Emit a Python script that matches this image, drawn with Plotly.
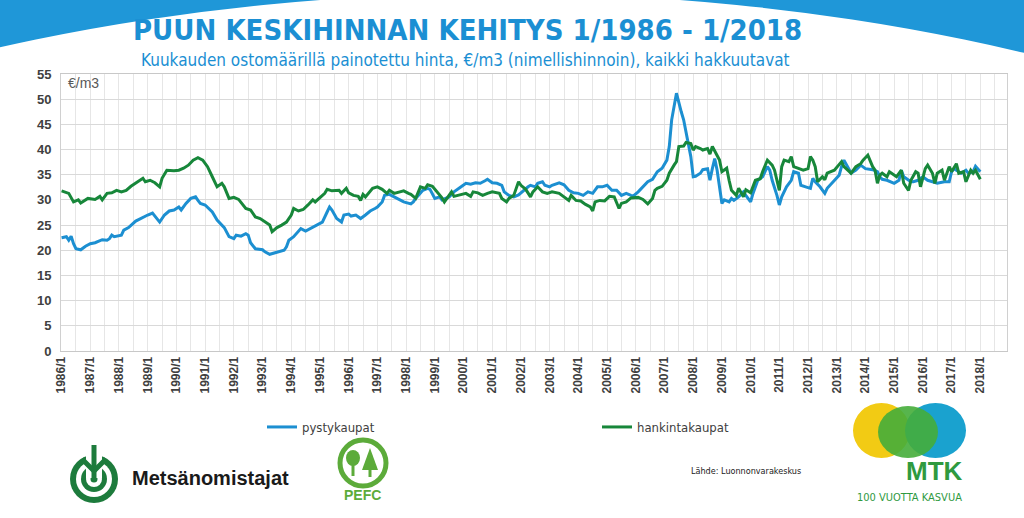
import plotly.graph_objects as go

# ---------------- data ----------------
pysty_months = [
    "1986/1", "1986/3", "1986/4", "1986/5", "1986/6", "1986/7", "1986/9", "1986/11",
    "1987/1", "1987/3", "1987/6", "1987/8", "1987/9", "1987/10", "1987/11",
    "1988/2", "1988/3", "1988/5", "1988/8", "1988/10", "1988/11",
    "1989/1", "1989/3", "1989/5", "1989/6", "1989/8", "1989/10", "1989/12",
    "1990/2", "1990/3", "1990/5", "1990/7", "1990/9", "1990/10", "1990/11",
    "1991/1", "1991/4", "1991/6", "1991/8", "1991/9", "1991/11",
    "1992/1", "1992/2", "1992/4", "1992/6", "1992/7", "1992/8", "1992/10",
    "1993/1", "1993/2", "1993/4", "1993/6", "1993/7", "1993/10", "1993/11", "1993/12",
    "1994/2", "1994/4", "1994/5", "1994/7", "1994/9", "1994/11", "1994/12",
    "1995/2", "1995/4", "1995/5", "1995/6", "1995/8", "1995/10", "1995/11",
    "1996/1", "1996/2", "1996/4", "1996/6", "1996/8", "1996/10", "1996/12",
    "1997/1", "1997/3", "1997/4", "1997/6", "1997/8", "1997/10", "1997/12",
    "1998/3", "1998/4", "1998/5", "1998/7", "1998/8", "1998/10", "1998/11",
    "1999/1", "1999/3", "1999/4", "1999/7", "1999/9", "1999/10", "1999/12",
    "2000/2", "2000/4", "2000/6", "2000/8", "2000/10", "2000/11",
    "2001/1", "2001/3", "2001/5", "2001/6", "2001/8", "2001/10", "2001/12",
    "2002/2", "2002/4", "2002/5", "2002/7", "2002/8", "2002/10", "2002/11",
    "2003/1", "2003/2", "2003/5", "2003/7", "2003/9", "2003/11",
    "2004/1", "2004/3", "2004/5", "2004/7", "2004/9", "2004/11",
    "2005/1", "2005/3", "2005/5", "2005/7", "2005/9", "2005/11", "2005/12",
    "2006/2", "2006/4", "2006/6", "2006/8", "2006/9", "2006/10", "2006/12",
    "2007/1", "2007/2", "2007/3", "2007/4", "2007/6", "2007/7", "2007/8", "2007/9", "2007/10", "2007/12",
    "2008/1", "2008/2", "2008/4", "2008/5", "2008/7", "2008/8", "2008/9", "2008/10", "2008/11",
    "2009/1", "2009/2", "2009/4", "2009/5", "2009/6", "2009/8", "2009/10", "2009/11",
    "2010/1", "2010/2", "2010/4", "2010/6", "2010/8", "2010/9", "2010/10", "2010/12",
    "2011/1", "2011/2", "2011/4", "2011/6", "2011/7", "2011/9", "2011/10", "2011/12",
    "2012/2", "2012/3", "2012/4", "2012/6", "2012/8", "2012/9", "2012/12",
    "2013/2", "2013/3", "2013/4", "2013/6", "2013/7", "2013/9", "2013/11",
    "2014/1", "2014/3", "2014/4", "2014/6", "2014/7", "2014/8", "2014/10",
    "2015/1", "2015/3", "2015/4", "2015/5", "2015/8", "2015/9", "2015/11",
    "2016/1", "2016/3", "2016/5", "2016/7", "2016/10", "2016/12",
    "2017/1", "2017/2", "2017/4", "2017/5", "2017/7", "2017/8", "2017/10", "2017/11",
    "2018/1",
]
pysty_values = [
    22.5, 22.7, 22.0, 22.8, 21.3, 20.3, 20.1, 20.8,
    21.3, 21.5, 22.1, 22.0, 22.3, 23.0, 22.7,
    23.0, 24.0, 24.5, 25.8, 26.3, 26.6,
    27.0, 27.4, 26.3, 25.6, 27.0, 27.8, 28.0,
    28.6, 28.0, 29.3, 30.3, 30.6, 29.9, 29.3,
    29.0, 27.6, 26.0, 25.0, 24.5, 22.7,
    22.3, 23.0, 22.8, 23.3, 23.0, 21.5, 20.3,
    20.1, 19.7, 19.2, 19.5, 19.7, 20.0, 20.7, 22.0,
    22.7, 23.7, 24.3, 23.8, 24.3, 24.7, 25.0,
    25.6, 27.6, 28.6, 28.0, 26.3, 25.6, 27.0,
    27.2, 26.8, 27.0, 26.3, 27.0, 27.8, 28.3,
    28.6, 29.6, 30.9, 31.1, 30.6, 30.1, 29.6,
    29.2, 29.6, 30.3, 31.3, 31.9, 32.3, 32.1,
    30.3, 30.6, 30.0, 30.6, 31.6, 31.9, 32.6,
    33.3, 33.1, 33.4, 33.3, 33.8, 34.1,
    33.4, 33.3, 32.9, 31.6, 30.9, 30.6, 31.0,
    31.9, 32.6, 32.9, 32.6, 33.3, 33.6, 32.9,
    32.6, 32.9, 33.4, 33.0, 31.9, 31.4,
    31.3, 30.9, 31.6, 31.3, 32.6, 32.6,
    32.9, 31.9, 31.9, 30.9, 31.3, 30.9, 30.8,
    31.6, 32.6, 33.6, 34.1, 34.9, 35.6, 36.3,
    37.2, 37.9, 40.6, 45.9, 51.2, 49.2, 47.5, 45.9, 43.2, 38.6,
    34.6, 34.7, 35.3, 36.0, 36.2, 33.9, 36.2, 38.2, 35.9,
    29.3, 30.0, 29.6, 30.3, 29.9, 30.6, 31.6, 30.9,
    29.6, 31.3, 33.9, 34.6, 36.6, 35.9, 33.9, 30.9,
    29.0, 30.6, 32.6, 33.9, 35.6, 35.3, 32.9, 32.6,
    32.3, 34.3, 33.6, 32.6, 31.3, 32.3, 33.9,
    34.9, 36.6, 37.9, 36.2, 35.3, 35.9, 36.9,
    36.2, 36.1, 36.0, 35.6, 34.6, 34.1, 33.9,
    33.3, 33.9, 35.9, 34.6, 33.6, 33.6, 33.9,
    34.6, 33.9, 33.6, 33.3, 33.6, 33.6,
    35.6, 36.2, 35.6, 35.3, 35.9, 35.3, 35.6, 36.7,
    35.6,
]

hankinta_months = [
    "1986/1", "1986/4", "1986/6", "1986/8", "1986/9", "1986/12",
    "1987/3", "1987/5", "1987/6", "1987/8", "1987/10", "1987/12",
    "1988/2", "1988/4", "1988/6", "1988/8", "1988/11", "1988/12",
    "1989/2", "1989/4", "1989/6", "1989/7", "1989/9", "1989/12",
    "1990/2", "1990/4", "1990/6", "1990/8", "1990/10", "1990/12",
    "1991/2", "1991/4", "1991/6", "1991/8", "1991/9", "1991/11",
    "1992/1", "1992/3", "1992/6", "1992/8", "1992/10", "1992/12",
    "1993/2", "1993/4", "1993/5", "1993/7", "1993/9", "1993/11",
    "1994/1", "1994/2", "1994/4", "1994/6", "1994/8", "1994/10", "1994/11",
    "1995/1", "1995/3", "1995/4", "1995/6", "1995/9", "1995/10", "1995/12",
    "1996/1", "1996/3", "1996/5", "1996/6", "1996/7", "1996/8", "1996/10", "1996/11",
    "1997/1", "1997/2", "1997/3", "1997/5", "1997/6", "1997/8", "1997/10", "1997/12",
    "1998/2", "1998/3", "1998/5", "1998/6", "1998/7", "1998/9", "1998/10", "1998/12",
    "1999/2", "1999/4", "1999/5", "1999/7", "1999/8", "1999/9", "1999/11",
    "2000/2", "2000/4", "2000/5", "2000/7", "2000/9", "2000/11",
    "2001/1", "2001/4", "2001/5", "2001/7", "2001/8", "2001/10", "2001/12",
    "2002/1", "2002/3", "2002/5", "2002/6", "2002/8", "2002/10", "2002/12",
    "2003/2", "2003/5", "2003/7", "2003/9", "2003/10", "2003/12",
    "2004/2", "2004/4", "2004/6", "2004/7", "2004/8", "2004/10", "2004/12",
    "2005/2", "2005/4", "2005/6", "2005/7", "2005/9", "2005/11",
    "2006/2", "2006/4", "2006/6", "2006/8", "2006/9", "2006/10", "2006/12",
    "2007/2", "2007/3", "2007/5", "2007/6", "2007/7", "2007/9", "2007/10", "2007/12",
    "2008/1", "2008/2", "2008/4", "2008/5", "2008/7", "2008/8", "2008/9", "2008/11", "2008/12",
    "2009/1", "2009/3", "2009/4", "2009/5", "2009/7", "2009/8", "2009/10", "2009/11",
    "2010/1", "2010/2", "2010/3", "2010/5", "2010/6", "2010/8", "2010/10", "2010/11",
    "2011/1", "2011/2", "2011/3", "2011/5", "2011/6", "2011/7", "2011/9", "2011/11",
    "2012/1", "2012/2", "2012/3", "2012/4", "2012/5", "2012/7", "2012/8", "2012/9", "2012/12",
    "2013/2", "2013/3", "2013/4", "2013/6", "2013/7", "2013/9", "2013/11", "2013/12",
    "2014/2", "2014/4", "2014/5", "2014/6", "2014/7", "2014/8", "2014/10", "2014/11",
    "2015/1", "2015/2", "2015/4", "2015/5", "2015/7", "2015/8", "2015/10", "2015/11", "2015/12",
    "2016/2", "2016/3", "2016/5", "2016/6", "2016/7", "2016/9", "2016/10", "2016/12",
    "2017/1", "2017/3", "2017/4", "2017/6", "2017/7", "2017/9", "2017/10", "2017/11",
    "2018/1",
]
hankinta_values = [
    31.8, 31.3, 29.6, 30.0, 29.4, 30.3,
    30.1, 30.7, 30.0, 31.3, 31.4, 31.9,
    31.6, 31.9, 32.7, 33.4, 34.3, 33.6,
    33.9, 33.4, 32.6, 34.3, 35.9, 35.8,
    35.9, 36.3, 36.9, 37.9, 38.4, 37.9,
    36.6, 34.6, 32.6, 33.3, 32.6, 30.3,
    30.5, 30.1, 28.3, 28.0, 26.6, 26.3,
    25.6, 25.0, 23.7, 24.5, 25.0, 25.6,
    27.0, 28.3, 27.8, 28.1, 29.0, 30.0, 29.6,
    30.5, 31.3, 32.1, 31.8, 31.9, 31.3, 32.3,
    31.4, 30.9, 30.7, 29.9, 31.1, 30.6, 31.9, 32.3,
    32.6, 32.3, 32.1, 31.3, 31.9, 31.3, 31.6, 31.8,
    31.3, 31.1, 30.3, 31.3, 32.6, 32.3, 33.0, 32.7,
    31.6, 30.4, 29.6, 30.9, 31.6, 30.7, 30.9,
    31.3, 30.7, 31.6, 31.4, 30.9, 31.3,
    31.6, 31.3, 30.3, 29.6, 30.3, 30.9, 33.6,
    32.9, 32.1, 30.6, 31.6, 32.6, 31.6, 31.3,
    31.6, 31.3, 30.6, 29.9, 30.9, 29.9,
    29.8, 29.1, 28.6, 27.8, 29.6, 29.9, 29.8,
    30.7, 30.6, 28.3, 29.3, 29.6, 30.4,
    30.5, 30.1, 29.2, 30.3, 31.9, 32.3, 32.7,
    33.9, 35.3, 36.9, 37.6, 40.6, 40.7, 41.4, 41.2,
    39.9, 40.6, 40.2, 39.9, 40.2, 39.1, 40.6, 38.6, 37.9,
    35.6, 36.3, 33.9, 31.9, 30.9, 32.3, 30.6, 32.0,
    31.4, 32.6, 33.9, 34.2, 35.6, 37.9, 36.9, 35.9,
    31.9, 36.6, 37.9, 37.6, 38.6, 36.6, 36.2, 35.9,
    36.2, 38.6, 37.9, 36.6, 33.6, 34.6, 34.0, 35.3, 35.9,
    36.9, 37.6, 36.6, 35.6, 35.3, 36.6, 37.2, 37.9,
    38.9, 36.6, 35.9, 33.3, 34.9, 35.3, 34.6, 35.6,
    34.9, 34.6, 35.9, 33.3, 31.9, 33.9, 35.6, 35.3, 32.6,
    36.2, 36.9, 35.3, 33.3, 35.3, 35.9, 33.9, 36.6,
    35.6, 37.2, 35.3, 35.6, 33.6, 35.9, 35.3, 35.9,
    34.1,
]

tick_years = list(range(1986, 2019))
tick_labels = [f"{y}/1" for y in tick_years]
y_ticks = list(range(0, 56, 5))

series_names = ["pystykaupat", "hankintakaupat"]

# ---------------- styling ----------------
BLUE = "#1c8fd1"
GREEN = "#17873a"
SKY = "#1f97d8"
TITLE_BLUE = "#1b8fd3"
TXT = "#404040"
NARROW = "DejaVu Sans Condensed, Liberation Sans Narrow, Arial Narrow, sans-serif"
ARIAL = "Liberation Sans, Arial, sans-serif"

W, H = 1024, 518
L, R, T, B = 61, 17, 74, 167


def px(x):
    return (x - L) / (W - L - R)


def py(y):
    return (H - B - y) / (H - T - B)


def month_to_x(s):
    yy, mm = s.split("/")
    return int(yy) + (int(mm) - 1) / 12.0


fig = go.Figure()
fig.add_trace(go.Scatter(
    x=[month_to_x(m) for m in pysty_months], y=pysty_values,
    mode="lines", name=series_names[0],
    line=dict(color=BLUE, width=3), hoverinfo="skip"))
fig.add_trace(go.Scatter(
    x=[month_to_x(m) for m in hankinta_months], y=hankinta_values,
    mode="lines", name=series_names[1],
    line=dict(color=GREEN, width=3), hoverinfo="skip"))

shapes = []
# blue swoosh at the top
shapes.append(dict(type="rect", xref="paper", yref="paper", layer="below",
                   x0=px(0), x1=px(W), y0=py(0), y1=py(62),
                   fillcolor=SKY, line=dict(width=0)))
shapes.append(dict(type="circle", xref="paper", yref="paper", layer="below",
                   x0=px(500 - 1212.8), x1=px(500 + 1212.8),
                   y0=py(-6.7), y1=py(1206.7),
                   fillcolor="white", line=dict(width=0)))

# Metsanomistajat emblem
MG = "#1d7b3c"
cx, cy = 94, 479
for r, col in [(24, MG), (18, "white"), (13, MG), (8, "white"), (3.5, MG)]:
    shapes.append(dict(type="circle", xref="paper", yref="paper",
                       x0=px(cx - r), x1=px(cx + r), y0=py(cy - r), y1=py(cy + r),
                       fillcolor=col, line=dict(width=0)))
shapes.append(dict(type="rect", xref="paper", yref="paper",
                   x0=px(86), x1=px(102), y0=py(452), y1=py(478),
                   fillcolor="white", line=dict(width=0)))
shapes.append(dict(type="rect", xref="paper", yref="paper",
                   x0=px(91.5), x1=px(96.5), y0=py(445), y1=py(478),
                   fillcolor=MG, line=dict(width=0)))
shapes.append(dict(type="path", xref="paper", yref="paper",
                   path=f"M {px(82)},{py(459)} L {px(94)},{py(471)} L {px(106)},{py(459)}",
                   line=dict(color=MG, width=5)))

# PEFC logo
PG = "#5cab3a"
shapes.append(dict(type="circle", xref="paper", yref="paper",
                   x0=px(340), x1=px(386), y0=py(440), y1=py(486),
                   line=dict(color=PG, width=5)))
shapes.append(dict(type="circle", xref="paper", yref="paper",
                   x0=px(346), x1=px(360), y0=py(450), y1=py(466),
                   fillcolor=PG, line=dict(width=0)))
shapes.append(dict(type="rect", xref="paper", yref="paper",
                   x0=px(351.5), x1=px(354.5), y0=py(464), y1=py(476),
                   fillcolor=PG, line=dict(width=0)))
shapes.append(dict(type="path", xref="paper", yref="paper",
                   path=f"M {px(370)},{py(448)} L {px(378)},{py(470)} L {px(362)},{py(470)} Z",
                   fillcolor=PG, line=dict(width=0)))
shapes.append(dict(type="rect", xref="paper", yref="paper",
                   x0=px(368.5), x1=px(371.5), y0=py(468), y1=py(477),
                   fillcolor=PG, line=dict(width=0)))

# MTK logo
shapes.append(dict(type="circle", xref="paper", yref="paper",
                   x0=px(853), x1=px(910), y0=py(403), y1=py(458),
                   fillcolor="#f2cb14", line=dict(width=0)))
shapes.append(dict(type="circle", xref="paper", yref="paper",
                   x0=px(905), x1=px(966), y0=py(403), y1=py(458),
                   fillcolor="#1aa2cf", line=dict(width=0)))
shapes.append(dict(type="circle", xref="paper", yref="paper",
                   x0=px(878), x1=px(938), y0=py(406), y1=py(458),
                   fillcolor="#45ad3a", opacity=0.9, line=dict(width=0)))

fig.update_layout(shapes=shapes)

ann = []
ann.append(dict(text="<b>PUUN KESKIHINNAN KEHITYS 1/1986 - 1/2018</b>",
                x=px(467), y=py(30), xref="paper", yref="paper",
                xanchor="center", yanchor="middle", showarrow=False,
                font=dict(family=NARROW, size=29, color=TITLE_BLUE)))
ann.append(dict(text="Kuukauden ostomäärillä painotettu hinta, €/m3 (nimellishinnoin), kaikki hakkuutavat",
                x=px(465), y=py(60), xref="paper", yref="paper",
                xanchor="center", yanchor="middle", showarrow=False,
                font=dict(family=NARROW, size=17, color=TITLE_BLUE)))
ann.append(dict(text="€/m3", x=px(66), y=py(83), xref="paper", yref="paper",
                xanchor="left", yanchor="middle", showarrow=False,
                font=dict(family=ARIAL, size=14, color="#595959")))
ann.append(dict(text="<b>Metsänomistajat</b>", x=px(130), y=py(478),
                xref="paper", yref="paper", xanchor="left", yanchor="middle",
                showarrow=False, font=dict(family=ARIAL, size=20, color="#1a1a1a")))
ann.append(dict(text="<b>PEFC</b>", x=px(362), y=py(495),
                xref="paper", yref="paper", xanchor="center", yanchor="middle",
                showarrow=False, font=dict(family=ARIAL, size=14, color=PG)))
ann.append(dict(text="Lähde: Luonnonvarakeskus", x=px(746), y=py(471),
                xref="paper", yref="paper", xanchor="center", yanchor="middle",
                showarrow=False, font=dict(family=NARROW, size=9, color="#222222")))
ann.append(dict(text="<b>MTK</b>", x=px(934), y=py(471),
                xref="paper", yref="paper", xanchor="center", yanchor="middle",
                showarrow=False, font=dict(family=ARIAL, size=26, color="#2f9a3f")))
ann.append(dict(text="100 VUOTTA KASVUA", x=px(909), y=py(497),
                xref="paper", yref="paper", xanchor="center", yanchor="middle",
                showarrow=False, font=dict(family=NARROW, size=11, color="#2f9a3f")))
fig.update_layout(annotations=ann)

fig.update_layout(
    width=W, height=H,
    margin=dict(l=L, r=R, t=T, b=B, pad=0, autoexpand=False),
    paper_bgcolor="white", plot_bgcolor="white",
    showlegend=True,
    legend=dict(orientation="h", x=px(262), y=py(427), xanchor="left", yanchor="middle",
                entrywidth=290, entrywidthmode="pixels", itemwidth=30,
                font=dict(family=NARROW, size=13, color=TXT),
                bgcolor="rgba(0,0,0,0)"),
    xaxis=dict(range=[1985.98, 2018.93], tickmode="array",
               tickvals=tick_years, ticktext=[f"<b>{t}</b>" for t in tick_labels],
               tickangle=-90, tickfont=dict(family=ARIAL, size=12, color=TXT),
               showgrid=True, gridcolor="#e6e6e6", gridwidth=1,
               minor=dict(dtick=0.5, tick0=1986, showgrid=True, gridcolor="#e6e6e6"),
               showline=True, linecolor="#c8c8c8", mirror=True, zeroline=False,
               ticks="", automargin=False, fixedrange=True),
    yaxis=dict(range=[0, 55], tickmode="array", tickvals=y_ticks,
               ticktext=[f"<b>{v}</b>" for v in y_ticks],
               tickfont=dict(family=ARIAL, size=13, color=TXT),
               showgrid=True, gridcolor="#d9d9d9", gridwidth=1,
               showline=True, linecolor="#d0d0d0", mirror=True, zeroline=False,
               ticks="", ticklabelstandoff=6, automargin=False, fixedrange=True),
)

fig.write_html("out.html")
